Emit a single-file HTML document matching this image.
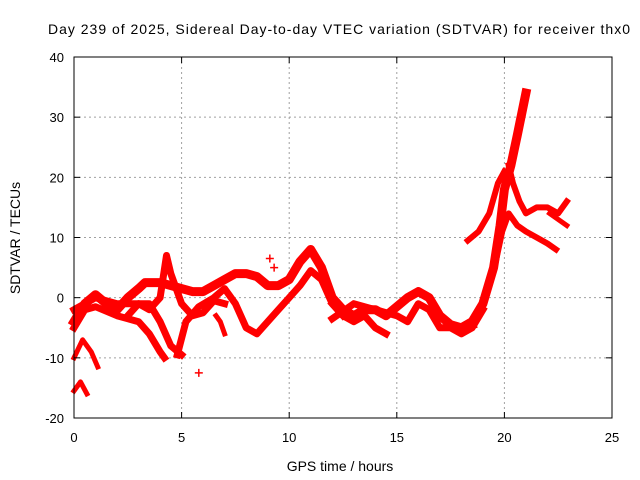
<!DOCTYPE html>
<html><head><meta charset="utf-8"><style>
body{margin:0;background:#fff;}
svg{display:block;font-family:"Liberation Sans",sans-serif;}
</style></head><body>
<svg id="chart" width="640" height="480">
<text x="48" y="34" font-size="14" textLength="582" lengthAdjust="spacing">Day 239 of 2025, Sidereal Day-to-day VTEC variation (SDTVAR) for receiver thx0</text>
<g id="grid"></g>
<g id="marks"></g>
<rect x="74" y="57" width="538" height="361" fill="none" stroke="#000" stroke-width="1"/>
<g id="axes"></g>
<text x="340" y="471" font-size="14" text-anchor="middle">GPS time / hours</text>
<text x="20" y="238" font-size="14" text-anchor="middle" transform="rotate(-90 20 238)">SDTVAR / TECUs</text>
</svg>
<script>
const xTicks=[0,5,10,15,20,25];
const yTicks=[-20,-10,0,10,20,30,40];
const trackA_t=[0,0.5,1,1.5,2,2.5,3,3.3,4,4.5,5,5.5,6,6.5,7,7.5,8,8.5,9,9.5,10,10.5,11,11.5,12,12.5,13,13.5,14,14.5,15,15.5,16,16.5,17,17.5,18,18.5];
const trackA_v=[-4,-1,0.5,-1,-2,0,1.5,2.5,2.5,2,1.5,1,1,2,3,4,4,3.5,2,2,3,6,8,5,0,-2,-3,-2,-2,-3,-1.5,0,1,0,-3,-4.5,-5,-4.5];
const trackB_t=[18,18.5,19,19.5,19.8,20,20.3,20.6,21];
const trackB_v=[-5,-4,-1,5,12,18,22,27,34];
const trackC_t=[20.2,20.4,20.7,21,21.5,22,22.5,22.9];
const trackC_v=[22,19,16,14,15,15,14,16];
const trackD_t=[19.6,19.9,20.2,20.6,21,21.5,22,22.4];
const trackD_v=[6,11,14,12,11,10,9,8];
const trackE_t=[18.3,18.8,19.3,19.7,20];
const trackE_v=[9.5,11,14,19,21];
const trackF_t=[22.1,22.5,22.9];
const trackF_v=[14,13,12];
const trackG_t=[0,0.4,0.8,1.1];
const trackG_v=[-10,-7,-9,-11.5];
const trackH_t=[0,0.3,0.6];
const trackH_v=[-15.5,-14,-16];
const trackI_t=[0,0.5,1,2,3,3.5,4,4.2];
const trackI_v=[-5,-2,-1.5,-3,-4,-6,-9,-10];
const trackJ_t=[2.5,3,3.5,4,4.3,4.5,5,5.5,6,6.5,7];
const trackJ_v=[-3,-1,-2,0,7,4,-1,-3,-2.5,-0.5,-1];
const trackK_t=[0,1,2,3,3.5,4,4.5,5];
const trackK_v=[-2,0,-1,-1,-1,-4,-8,-9.5];
const trackL_t=[4.8,5.2,5.8,6.5,7,7.5,8,8.5,9,9.5,10,10.5,11,11.5,12,12.5];
const trackL_v=[-9.5,-4,-1.5,0,1.5,-1,-5,-6,-4,-2,0,2,4.5,3,-1,-3];
const trackM_t=[6.6,6.8,7];
const trackM_v=[-3,-4,-6];
const trackN_t=[12,12.5,13,13.5,14,14.5];
const trackN_v=[-1,-3,-4,-3,-5,-6];
const trackO_t=[12,13,14,15,15.5,16,16.5,17,17.5,18,18.5,19];
const trackO_v=[-3.5,-1,-2,-3,-4,-1,-2,-5,-5,-6,-5,-2];
const outlier_t=[5.8,9.1,9.3];
const outlier_v=[-12.5,6.5,5];
const tracks=[[trackA_t,trackA_v,9],[trackB_t,trackB_v,9],[trackC_t,trackC_v,6],[trackD_t,trackD_v,6],[trackE_t,trackE_v,6],[trackF_t,trackF_v,5],[trackG_t,trackG_v,5],[trackH_t,trackH_v,5],[trackI_t,trackI_v,7],[trackJ_t,trackJ_v,7],[trackK_t,trackK_v,7],[trackL_t,trackL_v,7],[trackM_t,trackM_v,5],[trackN_t,trackN_v,7],[trackO_t,trackO_v,7]];
const NS='http://www.w3.org/2000/svg';
const X0=74,X1=612,Y0=418,Y1=57;
function xs(t){return X0+(t-0)/25*(X1-X0);}
function ys(v){return Y0-(v+20)/60*(Y0-Y1);}
const grid=document.getElementById('grid'),axes=document.getElementById('axes'),marks=document.getElementById('marks');
function mk(tag,attrs,parent){const e=document.createElementNS(NS,tag);for(const k in attrs)e.setAttribute(k,attrs[k]);parent.appendChild(e);return e;}
xTicks.forEach(t=>{const x=xs(t);
 if(t>0&&t<25){const g=mk('line',{x1:x,x2:x,y1:Y1,y2:Y0,stroke:'#a0a0a0','stroke-dasharray':'2,3'},grid);
 
 }
 mk('line',{x1:x,x2:x,y1:Y0,y2:Y0-6,stroke:'#000'},axes);
 mk('line',{x1:x,x2:x,y1:Y1,y2:Y1+6,stroke:'#000'},axes);
 const l=mk('text',{x:x,y:Y0+24,'font-size':'13','text-anchor':'middle'},axes);l.textContent=t;
 
 });
yTicks.forEach(v=>{const y=ys(v);
 if(v>-20&&v<40){const g=mk('line',{x1:X0,x2:X1,y1:y,y2:y,stroke:'#a0a0a0','stroke-dasharray':'2,3'},grid);
 
 }
 mk('line',{x1:X0,x2:X0+6,y1:y,y2:y,stroke:'#000'},axes);
 mk('line',{x1:X1,x2:X1-6,y1:y,y2:y,stroke:'#000'},axes);
 const l=mk('text',{x:X0-10,y:y+5,'font-size':'13','text-anchor':'end'},axes);l.textContent=v;
 
 });
tracks.forEach((tr,i)=>{const pts=tr[0].map((t,j)=>xs(t).toFixed(1)+','+ys(tr[1][j]).toFixed(1)).join(' ');
 const p=mk('polyline',{points:pts,fill:'none',stroke:'#ff0000','stroke-width':tr[2],'stroke-linejoin':'round','stroke-linecap':'square'},marks);
 
 });
outlier_t.forEach((t,j)=>{const x=xs(t),y=ys(outlier_v[j]);
 const p=mk('path',{d:`M${x-4},${y}H${x+4}M${x},${y-4}V${y+4}`,stroke:'#ff0000','stroke-width':1.5},marks);
 
 });
</script>
</body></html>
